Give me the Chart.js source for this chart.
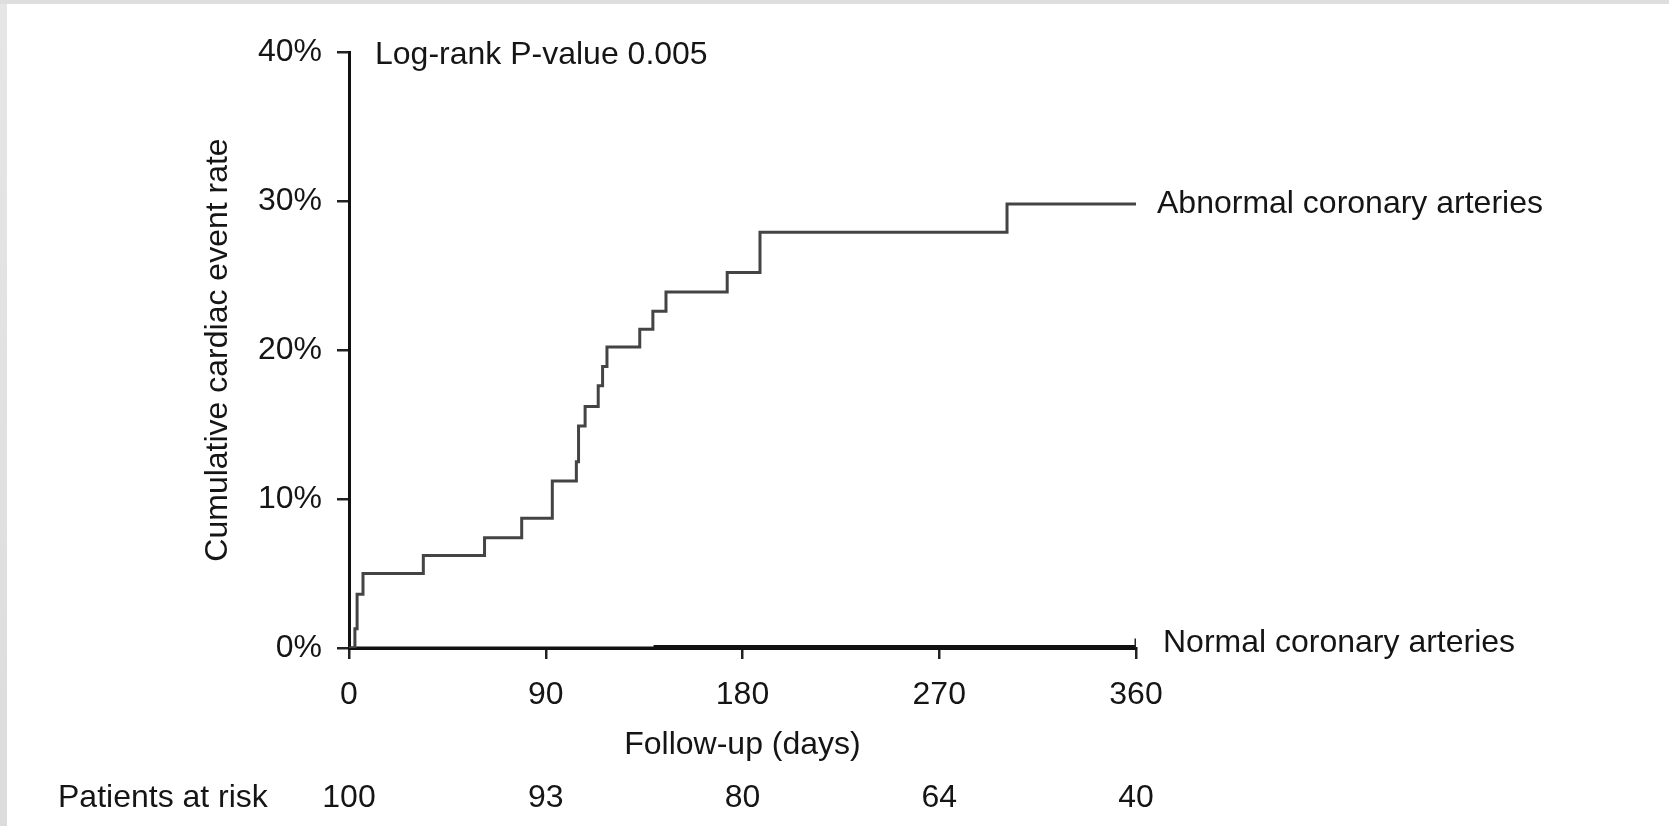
<!DOCTYPE html>
<html>
<head>
<meta charset="utf-8">
<script src="https://cdn.jsdelivr.net/npm/chart.js@4/dist/chart.umd.min.js"></script>
<style>
html,body{margin:0;padding:0;background:#fff;}
#wrap{position:relative;width:1669px;height:826px;overflow:hidden;}
#c{position:absolute;left:0;top:0;}
.edgeL{position:absolute;left:0;top:0;width:7px;height:826px;background:linear-gradient(#e6e6e6,#dcdcdc);}
.edgeT{position:absolute;left:0;top:0;width:1669px;height:4px;background:#dedede;}
</style>
</head>
<body>
<div id="wrap">
    <canvas id="c" width="1669" height="826"></canvas>
    <div class="edgeL"></div>
    <div class="edgeT"></div>
</div>
<script>
// step curves (days, cumulative %)
const abnDays = [0, 2.7, 3.7, 6.4, 34, 62, 79, 93, 104, 105, 108, 114, 116, 118, 133, 139, 145, 173, 188, 301, 360];
const abnRate = [0, 1.3, 3.6, 5.0, 6.2, 7.4, 8.7, 11.2, 12.5, 14.9, 16.2, 17.6, 18.9, 20.2, 21.4, 22.6, 23.9, 25.2, 27.9, 29.8, 29.8];
const normDays = [0, 140, 360];
const normRate = [0, 0.1, 0.1];

const xTicks = [0, 90, 180, 270, 360];
const atRisk = [100, 93, 80, 64, 40];
const yTicks = [0, 10, 20, 30, 40];

const pValueText = "Log-rank P-value 0.005";
const abnLabel = "Abnormal coronary arteries";
const normLabel = "Normal coronary arteries";

const FONT = '"Liberation Sans", Arial, Helvetica, sans-serif';
const INK = "#151515";
Chart.defaults.font.family = FONT;
Chart.defaults.font.size = 32;
Chart.defaults.color = INK;

const toPts = (xs, ys) => xs.map((d, i) => ({x: d, y: ys[i]}));

const textPlugin = {
    id: "kmText",
    afterDraw(chart){
        const ctx = chart.ctx;
        const xs = chart.scales.x, ys = chart.scales.y;
        ctx.save();
        ctx.fillStyle = INK;
        ctx.font = "32px " + FONT;
        ctx.textBaseline = "alphabetic";
        ctx.textAlign = "left";
        ctx.fillText(pValueText, chart.chartArea.left + 26, 64);
        const xEnd = xs.getPixelForValue(360);
        ctx.fillText(abnLabel, xEnd + 21, ys.getPixelForValue(abnRate[abnRate.length-1]) + 9);
        ctx.fillText(normLabel, xEnd + 27, ys.getPixelForValue(0) + 4);

        // patients at risk row
        ctx.textBaseline = "middle";
        ctx.fillText("Patients at risk", 58, 798);
        ctx.textAlign = "center";
        xTicks.forEach((t, i)=>{
            ctx.fillText(String(atRisk[i]), xs.getPixelForValue(t), 798);
        });
        ctx.restore();
    }
};

new Chart(document.getElementById("c"), {
    type: "line",
    data: {
        datasets: [
            {
                label: abnLabel,
                data: toPts(abnDays, abnRate),
                stepped: true,
                borderColor: "#444",
                borderWidth: 3,
                pointRadius: 0,
                fill: false
            },
            {
                label: normLabel,
                data: toPts(normDays, normRate),
                stepped: true,
                borderColor: "#111",
                borderWidth: 3,
                pointStyle: "line",
                rotation: 90,
                pointRadius: c => c.dataIndex === normDays.length-1 ? 8 : 0,
                pointBorderColor: "#222",
                pointBorderWidth: 3,
                fill: false
            }
        ]
    },
    options: {
        responsive: false,
        animation: false,
        layout: {padding: {left: 199, top: 52, right: 533, bottom: 0}},
        plugins: {legend: {display: false}, tooltip: {enabled: false}},
        scales: {
            x: {
                type: "linear",
                min: 0, max: 360,
                afterBuildTicks: s => { s.ticks = xTicks.map(v => ({value: v})); },
                afterFit: s => { s.height = 178; },
                ticks: {padding: 17, maxRotation: 0, color: INK},
                grid: {drawOnChartArea: false, drawTicks: true, tickLength: 11, color: "#222", lineWidth: 2.5},
                border: {display: true, color: "#111", width: 3},
                title: {display: true, text: "Follow-up (days)", color: INK, padding: {top: 0, bottom: 62}}
            },
            y: {
                min: 0, max: 40,
                afterBuildTicks: s => { s.ticks = yTicks.map(v => ({value: v})); },
                afterFit: s => { s.width = 150; },
                ticks: {padding: 15, callback: v => v + "%", color: INK},
                grid: {drawOnChartArea: false, drawTicks: true, tickLength: 12, color: "#222", lineWidth: 2.5},
                border: {display: true, color: "#111", width: 3},
                title: {display: true, text: "Cumulative cardiac event rate", color: INK, padding: {top: 0, bottom: 0}}
            }
        }
    },
    plugins: [textPlugin]
});
</script>
</body>
</html>
